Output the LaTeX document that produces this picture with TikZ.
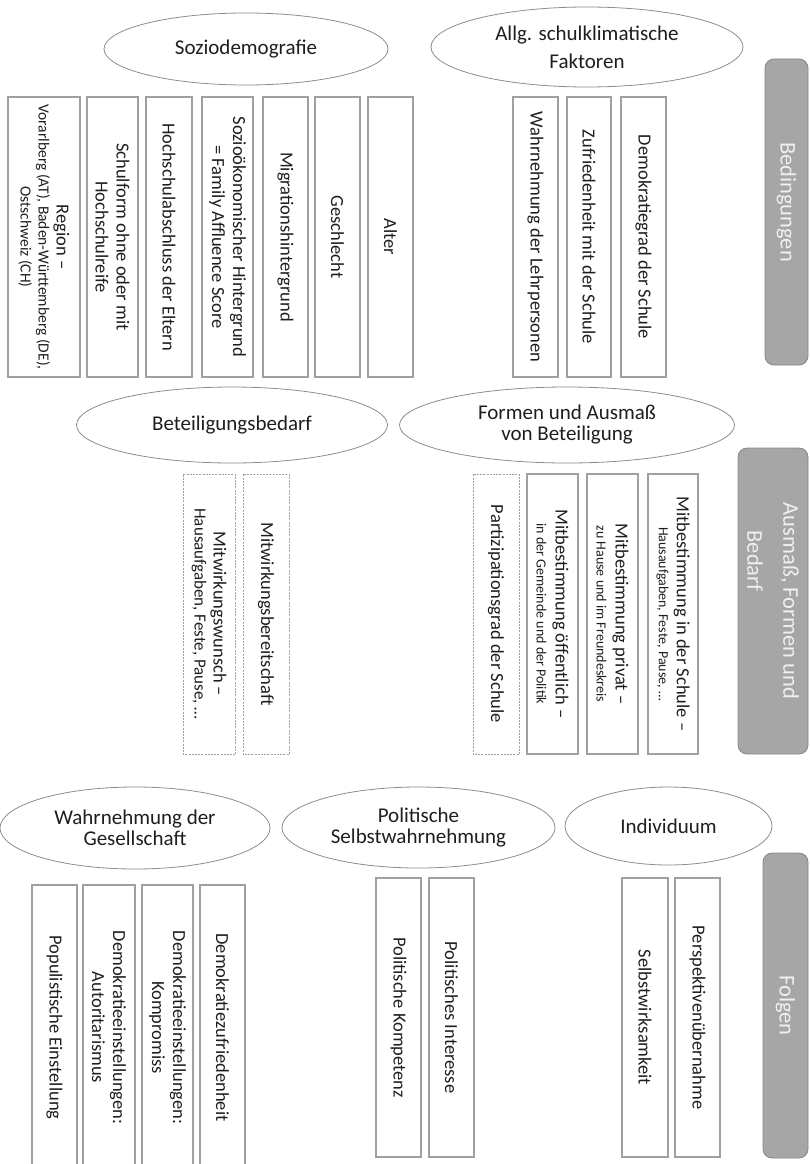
\documentclass[tikz,border=0pt]{standalone}
\usepackage{fontspec}
\setmainfont{Carlito}
\usetikzlibrary{shapes.geometric}

\definecolor{boxline}{RGB}{160,160,160}
\definecolor{ellline}{RGB}{140,140,140}
\definecolor{stagefill}{RGB}{166,166,166}
\definecolor{stageline}{RGB}{135,135,135}
\definecolor{stagetext}{RGB}{240,240,240}
\definecolor{ink}{RGB}{30,30,30}

\newcommand{\subline}{\fontsize{14}{15}\selectfont}
\newcommand{\regline}{\fontsize{15.5}{17}\selectfont}

\begin{document}
\begin{tikzpicture}[x=1pt, y=-1pt,
    groupell/.style={ellipse, draw=ellline, line width=0.8pt, inner sep=0pt, align=center, text=ink, font=\fontsize{21}{21}\selectfont},
    facbox/.style={draw=boxline, line width=1.1pt, rotate=-90, inner sep=0pt, align=center, text=ink, font=\fontsize{18.5}{21}\selectfont},
    wishbox/.style={facbox, line width=0.8pt, dash pattern=on 2pt off 1.2pt},
    stagebar/.style={fill=stagefill, draw=stageline, line width=0.8pt, rounded corners=9pt, rotate=-90, inner sep=0pt, align=center, text=stagetext, font=\fontsize{22.5}{36}\selectfont}]

    \useasboundingbox (0,0) rectangle (809,1164);

    % Bedingungen
    \node[groupell, minimum width=284pt, minimum height=72pt] (sozdem) at (246,49) {Soziodemografie};
    \node[groupell, minimum width=312pt, minimum height=80pt, font=\fontsize{21}{28}\selectfont] (klima) at (587,47) {Allg. schulklimatische\\Faktoren};

    \node[facbox, minimum width=280pt, minimum height=72pt] (region) at (44,237) {Region –\\[-3pt]\regline Vorarlberg (AT), Baden-Württemberg (DE),\\[-3pt]\regline Ostschweiz (CH)};
    \node[facbox, minimum width=280pt, minimum height=51pt] (schulform) at (112.5,237) {Schulform ohne oder mit\\Hochschulreife};
    \node[facbox, minimum width=280pt, minimum height=46pt] (abschluss) at (169,237) {Hochschulabschluss der Eltern};
    \node[facbox, minimum width=280pt, minimum height=51pt] (status) at (227.5,237) {Sozioökonomischer Hintergrund\\= Family Affluence Score};
    \node[facbox, minimum width=280pt, minimum height=45pt] (migration) at (285.5,237) {Migrationshintergrund};
    \node[facbox, minimum width=280pt, minimum height=45pt] (geschlecht) at (337.5,237) {Geschlecht};
    \node[facbox, minimum width=280pt, minimum height=45pt] (alter) at (390.5,237) {Alter};

    \node[facbox, minimum width=280pt, minimum height=45pt] (lehrer) at (535.5,237) {Wahrnehmung der Lehrpersonen};
    \node[facbox, minimum width=280pt, minimum height=44pt] (zufrieden) at (589,237) {Zufriedenheit mit der Schule};
    \node[facbox, minimum width=280pt, minimum height=45pt] (demograd) at (643.5,237) {Demokratiegrad der Schule};

    \node[stagebar, minimum width=306pt, minimum height=43pt] (bedingungen) at (786.5,212) {Bedingungen\hspace*{20pt}\mbox{}};

    % Ausmass, Formen und Bedarf
    \node[groupell, minimum width=311pt, minimum height=76pt] (bedarf) at (232,425) {Beteiligungsbedarf};
    \node[groupell, minimum width=335pt, minimum height=76pt] (formen) at (567,425) {Formen und Ausmaß\\von Beteiligung};

    \node[wishbox, minimum width=280pt, minimum height=52pt] (wunsch) at (209,614) {Mitwirkungswunsch –\\[-2pt]\fontsize{17}{18}\selectfont Hausaufgaben, Feste, Pause, …};
    \node[wishbox, minimum width=280pt, minimum height=46pt] (bereit) at (266,614) {Mitwirkungsbereitschaft};

    \node[wishbox, minimum width=280pt, minimum height=46pt] (partgrad) at (496,614) {Partizipationsgrad der Schule};
    \node[facbox, minimum width=280pt, minimum height=51pt] (oeffentlich) at (552.5,614) {Mitbestimmung öffentlich –\\[-2pt]\subline in der Gemeinde und der Politik};
    \node[facbox, minimum width=280pt, minimum height=51pt] (privat) at (612.5,614) {Mitbestimmung privat –\\[-2pt]\subline zu Hause und im Freundeskreis};
    \node[facbox, minimum width=280pt, minimum height=50pt] (schule) at (673,614) {Mitbestimmung in der Schule –\\[-3pt]\subline Hausaufgaben, Feste, Pause, …};

    \node[stagebar, minimum width=306pt, minimum height=70pt] (ausmass) at (773,601) {Ausmaß, Formen und\\Bedarf\hspace*{80pt}\mbox{}};

    % Folgen
    \node[groupell, minimum width=270pt, minimum height=82pt] (gesellschaft) at (135,828) {Wahrnehmung der\\Gesellschaft};
    \node[groupell, minimum width=273pt, minimum height=81pt] (selbstbild) at (418.5,827.5) {Politische\\Selbstwahrnehmung};
    \node[groupell, minimum width=207pt, minimum height=78pt] (individuum) at (668.5,826) {Individuum};

    \node[facbox, minimum width=285pt, minimum height=45pt] (populismus) at (54.5,1027.5) {Populistische Einstellung};
    \node[facbox, minimum width=285pt, minimum height=52pt] (autoritaer) at (109,1027.5) {Demokratieeinstellungen:\\Autoritarismus};
    \node[facbox, minimum width=285pt, minimum height=51pt] (kompromiss) at (167.5,1027.5) {Demokratieeinstellungen:\\Kompromiss};
    \node[facbox, minimum width=285pt, minimum height=45pt] (demozufr) at (222.5,1027.5) {Demokratiezufriedenheit};

    \node[facbox, minimum width=279pt, minimum height=45pt] (kompetenz) at (398.5,1017.5) {Politische Kompetenz};
    \node[facbox, minimum width=279pt, minimum height=45pt] (interesse) at (451.5,1017.5) {Politisches Interesse};

    \node[facbox, minimum width=279pt, minimum height=46pt] (wirksam) at (645,1017.5) {Selbstwirksamkeit};
    \node[facbox, minimum width=279pt, minimum height=45pt] (perspektive) at (697.5,1017.5) {Perspektivenübernahme};

    \node[stagebar, minimum width=305pt, minimum height=45pt] (folgen) at (785.5,1005.5) {Folgen};

\end{tikzpicture}
\end{document}
